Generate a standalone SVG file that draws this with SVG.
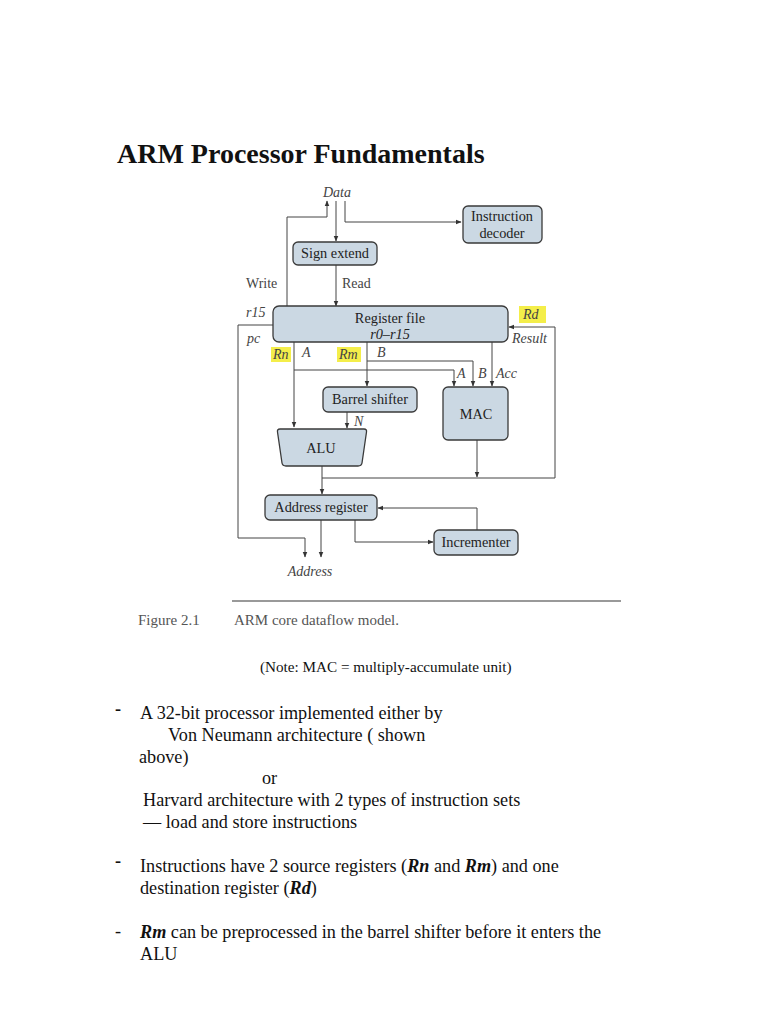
<svg xmlns="http://www.w3.org/2000/svg" width="768" height="1024" viewBox="0 0 768 1024">
<style>
.box{fill:#cbd8e3;stroke:#3a3a3a;stroke-width:1.3}
.bt{font-family:"Liberation Serif",serif;font-size:14.3px;fill:#222;text-anchor:middle}
.lb{font-family:"Liberation Serif",serif;font-size:14px;fill:#444}
.it{font-family:"Liberation Serif",serif;font-size:14px;fill:#444;font-style:italic}
.hl{fill:#f4ee4a}
.wire{fill:none;stroke:#444;stroke-width:1}
.body{font-family:"Liberation Serif",serif;font-size:18.2px;fill:#111}
.cap{font-family:"Liberation Serif",serif;font-size:15px;fill:#555}
</style>
<defs>
<marker id="ah" viewBox="0 0 10 10" refX="9" refY="5" markerWidth="6" markerHeight="6" orient="auto" markerUnits="userSpaceOnUse">
<path d="M0,1 L10,5 L0,9 z" fill="#333"/>
</marker>
</defs>
<rect width="768" height="1024" fill="#fff"/>
<text x="117" y="163" font-family="Liberation Serif,serif" font-size="28" font-weight="bold" fill="#111">ARM Processor Fundamentals</text>

<g id="connectors" class="wire">
<path d="M287 307 V217 H327 V201" marker-end="url(#ah)"/>
<path d="M336 201 V241" marker-end="url(#ah)"/>
<path d="M345 201 V222 H461" marker-end="url(#ah)"/>
<path d="M336 265 V306" marker-end="url(#ah)"/>
<path d="M273 325 H238 V538 H305 V557" marker-end="url(#ah)"/>
<path d="M294 342 V427" marker-end="url(#ah)"/>
<path d="M294 370 H454 V386" marker-end="url(#ah)"/>
<path d="M367 342 V386" marker-end="url(#ah)"/>
<path d="M367 361 H473 V386" marker-end="url(#ah)"/>
<path d="M492 342 V386" marker-end="url(#ah)"/>
<path d="M347 412 V428" marker-end="url(#ah)"/>
<path d="M477 440 V477" marker-end="url(#ah)"/>
<path d="M322 466 V494" marker-end="url(#ah)"/>
<path d="M322 478 H555 V327 H509" marker-end="url(#ah)"/>
<path d="M477 530 V508 H378" marker-end="url(#ah)"/>
<path d="M355 520 V542 H433" marker-end="url(#ah)"/>
<path d="M321 520 V557" marker-end="url(#ah)"/>
</g>

<g id="labels">
<text class="it" x="337" y="197" text-anchor="middle">Data</text>
<text class="lb" x="246" y="288">Write</text>
<text class="lb" x="342" y="288">Read</text>
<text class="it" x="246" y="317">r15</text>
<text class="it" x="247" y="343">pc</text>
<rect class="hl" x="271" y="347" width="20" height="15"/>
<text class="it" x="273" y="359">Rn</text>
<text class="it" x="302" y="357">A</text>
<rect class="hl" x="337" y="347" width="24" height="15"/>
<text class="it" x="339" y="359">Rm</text>
<text class="it" x="377" y="357">B</text>
<rect class="hl" x="519" y="306" width="27" height="17"/>
<text class="it" x="523" y="319">Rd</text>
<text class="it" x="512" y="343">Result</text>
<text class="it" x="457" y="378">A</text>
<text class="it" x="478" y="378">B</text>
<text class="it" x="496" y="378">Acc</text>
<text class="it" x="354" y="426">N</text>
<text class="it" x="310" y="576" text-anchor="middle">Address</text>
</g>

<g id="decoder"><rect class="box" x="463" y="206" width="79" height="37" rx="5"/>
<text class="bt" x="502" y="221">Instruction</text><text class="bt" x="502" y="238">decoder</text></g>
<g id="signext"><rect class="box" x="293" y="242" width="84" height="23" rx="5"/>
<text class="bt" x="335" y="258">Sign extend</text></g>
<g id="regfile"><rect class="box" x="273" y="306" width="235" height="36" rx="6"/>
<text class="bt" x="390" y="323">Register file</text><text class="bt" x="390" y="339" font-style="italic">r0–r15</text></g>
<g id="barrel"><rect class="box" x="323" y="387" width="94" height="25" rx="5"/>
<text class="bt" x="370" y="404">Barrel shifter</text></g>
<g id="mac"><rect class="box" x="443" y="387" width="65" height="53" rx="5"/>
<text class="bt" x="476" y="419">MAC</text></g>
<g id="alu"><path class="box" d="M280 429 H364 Q367 429 366.5 432 L362 463 Q361.5 466 358 466 H286 Q282.5 466 282 463 L277.5 432 Q277 429 280 429 z"/>
<text class="bt" x="321" y="453">ALU</text></g>
<g id="addrreg"><rect class="box" x="265" y="495" width="112" height="25" rx="5"/>
<text class="bt" x="321" y="512">Address register</text></g>
<g id="incr"><rect class="box" x="434" y="530" width="84" height="25" rx="5"/>
<text class="bt" x="476" y="547">Incrementer</text></g>

<line x1="232" y1="601" x2="621" y2="601" stroke="#777" stroke-width="1.5"/>
<text class="cap" x="138" y="625">Figure 2.1</text>
<text class="cap" x="234" y="625">ARM core dataflow model.</text>
<text x="260" y="672" font-family="Liberation Serif,serif" font-size="15.2" fill="#111">(Note: MAC = multiply-accumulate unit)</text>

<g id="text-body" class="body">
<text x="115" y="715" font-weight="bold">-</text>
<text x="140" y="719">A 32-bit processor implemented either by</text>
<text x="168" y="741">Von Neumann architecture ( shown</text>
<text x="139" y="763">above)</text>
<text x="262" y="784">or</text>
<text x="143" y="806">Harvard architecture with 2 types of instruction sets</text>
<text x="143" y="828">— load and store instructions</text>
<text x="115" y="867" font-weight="bold">-</text>
<text x="140" y="872">Instructions have 2 source registers (<tspan font-weight="bold" font-style="italic">Rn</tspan> and <tspan font-weight="bold" font-style="italic">Rm</tspan>) and one</text>
<text x="140" y="894">destination register (<tspan font-weight="bold" font-style="italic">Rd</tspan>)</text>
<text x="115" y="937">-</text>
<text x="140" y="938"><tspan font-weight="bold" font-style="italic">Rm</tspan> can be preprocessed in the barrel shifter before it enters the</text>
<text x="140" y="960">ALU</text>
</g>
</svg>
